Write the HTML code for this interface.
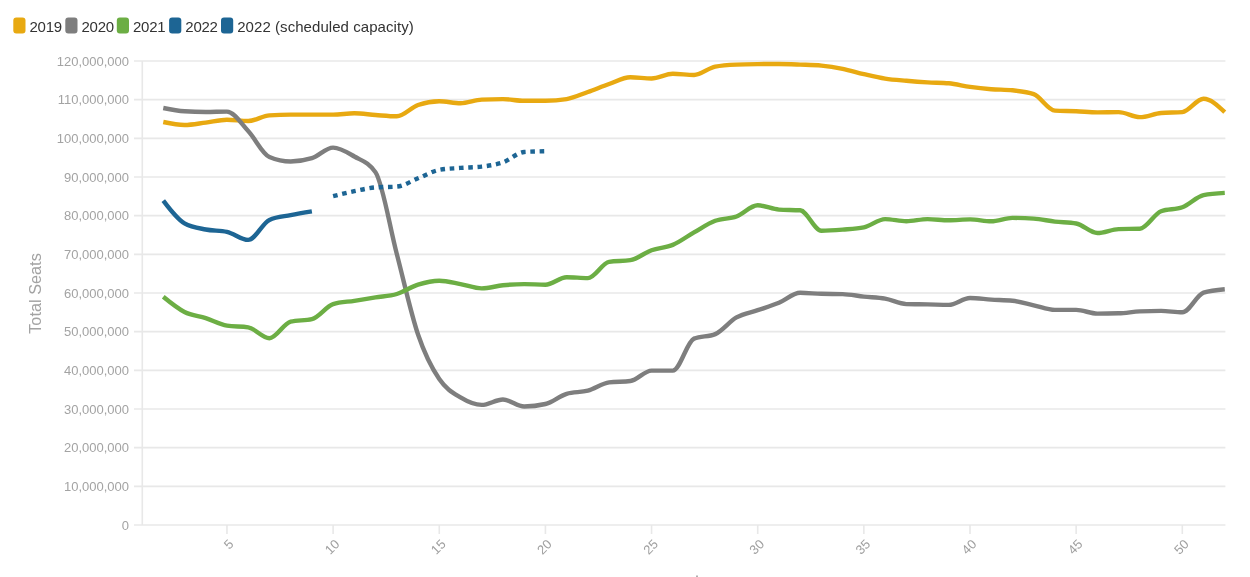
<!DOCTYPE html>
<html><head><meta charset="utf-8"><style>
html,body{margin:0;padding:0;background:#fff;}
body{width:1250px;height:577px;overflow:hidden;}
svg{display:block;will-change:transform;}
text{font-family:"Liberation Sans",sans-serif;}
.yl{font-size:13px;fill:#a3a3a3;}
.xl{font-size:13px;fill:#a0a0a0;}
.yt{font-size:16.3px;fill:#a3a3a3;}
.lg{font-size:15px;fill:#333;}
</style></head><body>
<svg width="1250" height="577" viewBox="0 0 1250 577">
<rect x="13.3" y="17.6" width="12.2" height="16" rx="3" fill="#E8A911"/>
<text x="29.5" y="31.8" class="lg" textLength="32.6" lengthAdjust="spacing">2019</text>
<rect x="65.3" y="17.6" width="12.2" height="16" rx="3" fill="#7E7E7E"/>
<text x="81.5" y="31.8" class="lg" textLength="32.6" lengthAdjust="spacing">2020</text>
<rect x="116.8" y="17.6" width="12.2" height="16" rx="3" fill="#6CAE44"/>
<text x="133.0" y="31.8" class="lg" textLength="32.6" lengthAdjust="spacing">2021</text>
<rect x="169.1" y="17.6" width="12.2" height="16" rx="3" fill="#1D6594"/>
<text x="185.3" y="31.8" class="lg" textLength="32.6" lengthAdjust="spacing">2022</text>
<rect x="221.0" y="17.6" width="12.2" height="16" rx="3" fill="#1D6594"/>
<text x="237.2" y="31.8" class="lg" textLength="176.5" lengthAdjust="spacing">2022 (scheduled capacity)</text>
<line x1="134" x2="1225.4" y1="525.00" y2="525.00" stroke="#e8e8e8" stroke-width="1.6"/>
<text x="129" y="529.80" text-anchor="end" class="yl">0</text>
<line x1="134" x2="1225.4" y1="486.33" y2="486.33" stroke="#e8e8e8" stroke-width="1.6"/>
<text x="129" y="491.13" text-anchor="end" class="yl">10,000,000</text>
<line x1="134" x2="1225.4" y1="447.67" y2="447.67" stroke="#e8e8e8" stroke-width="1.6"/>
<text x="129" y="452.47" text-anchor="end" class="yl">20,000,000</text>
<line x1="134" x2="1225.4" y1="409.00" y2="409.00" stroke="#e8e8e8" stroke-width="1.6"/>
<text x="129" y="413.80" text-anchor="end" class="yl">30,000,000</text>
<line x1="134" x2="1225.4" y1="370.33" y2="370.33" stroke="#e8e8e8" stroke-width="1.6"/>
<text x="129" y="375.13" text-anchor="end" class="yl">40,000,000</text>
<line x1="134" x2="1225.4" y1="331.67" y2="331.67" stroke="#e8e8e8" stroke-width="1.6"/>
<text x="129" y="336.47" text-anchor="end" class="yl">50,000,000</text>
<line x1="134" x2="1225.4" y1="293.00" y2="293.00" stroke="#e8e8e8" stroke-width="1.6"/>
<text x="129" y="297.80" text-anchor="end" class="yl">60,000,000</text>
<line x1="134" x2="1225.4" y1="254.33" y2="254.33" stroke="#e8e8e8" stroke-width="1.6"/>
<text x="129" y="259.13" text-anchor="end" class="yl">70,000,000</text>
<line x1="134" x2="1225.4" y1="215.67" y2="215.67" stroke="#e8e8e8" stroke-width="1.6"/>
<text x="129" y="220.47" text-anchor="end" class="yl">80,000,000</text>
<line x1="134" x2="1225.4" y1="177.00" y2="177.00" stroke="#e8e8e8" stroke-width="1.6"/>
<text x="129" y="181.80" text-anchor="end" class="yl">90,000,000</text>
<line x1="134" x2="1225.4" y1="138.33" y2="138.33" stroke="#e8e8e8" stroke-width="1.6"/>
<text x="129" y="143.13" text-anchor="end" class="yl">100,000,000</text>
<line x1="134" x2="1225.4" y1="99.67" y2="99.67" stroke="#e8e8e8" stroke-width="1.6"/>
<text x="129" y="104.47" text-anchor="end" class="yl">110,000,000</text>
<line x1="134" x2="1225.4" y1="61.00" y2="61.00" stroke="#e8e8e8" stroke-width="1.6"/>
<text x="129" y="65.80" text-anchor="end" class="yl">120,000,000</text>
<line x1="142.3" x2="142.3" y1="61" y2="525" stroke="#e8e8e8" stroke-width="1.6"/>
<line x1="226.96" x2="226.96" y1="525" y2="534" stroke="#e8e8e8" stroke-width="1.6"/>
<text transform="translate(234.26,545.00) rotate(-45)" text-anchor="end" class="xl">5</text>
<line x1="333.11" x2="333.11" y1="525" y2="534" stroke="#e8e8e8" stroke-width="1.6"/>
<text transform="translate(340.41,545.00) rotate(-45)" text-anchor="end" class="xl">10</text>
<line x1="439.26" x2="439.26" y1="525" y2="534" stroke="#e8e8e8" stroke-width="1.6"/>
<text transform="translate(446.56,545.00) rotate(-45)" text-anchor="end" class="xl">15</text>
<line x1="545.41" x2="545.41" y1="525" y2="534" stroke="#e8e8e8" stroke-width="1.6"/>
<text transform="translate(552.71,545.00) rotate(-45)" text-anchor="end" class="xl">20</text>
<line x1="651.56" x2="651.56" y1="525" y2="534" stroke="#e8e8e8" stroke-width="1.6"/>
<text transform="translate(658.86,545.00) rotate(-45)" text-anchor="end" class="xl">25</text>
<line x1="757.71" x2="757.71" y1="525" y2="534" stroke="#e8e8e8" stroke-width="1.6"/>
<text transform="translate(765.01,545.00) rotate(-45)" text-anchor="end" class="xl">30</text>
<line x1="863.86" x2="863.86" y1="525" y2="534" stroke="#e8e8e8" stroke-width="1.6"/>
<text transform="translate(871.16,545.00) rotate(-45)" text-anchor="end" class="xl">35</text>
<line x1="970.01" x2="970.01" y1="525" y2="534" stroke="#e8e8e8" stroke-width="1.6"/>
<text transform="translate(977.31,545.00) rotate(-45)" text-anchor="end" class="xl">40</text>
<line x1="1076.16" x2="1076.16" y1="525" y2="534" stroke="#e8e8e8" stroke-width="1.6"/>
<text transform="translate(1083.46,545.00) rotate(-45)" text-anchor="end" class="xl">45</text>
<line x1="1182.31" x2="1182.31" y1="525" y2="534" stroke="#e8e8e8" stroke-width="1.6"/>
<text transform="translate(1189.61,545.00) rotate(-45)" text-anchor="end" class="xl">50</text>
<path d="M163.27,122C170.35,123.5 177.42,125 184.5,125C191.58,125 198.65,123.47 205.73,122.6C212.81,121.73 219.88,119.8 226.96,119.8C234.04,119.8 241.11,121 248.19,121C255.27,121 262.34,115.93 269.42,115.4C276.5,114.87 283.57,114.6 290.65,114.6C297.73,114.6 304.8,114.6 311.88,114.6C318.96,114.6 326.03,114.6 333.11,114.6C340.19,114.6 347.26,113.3 354.34,113.3C361.42,113.3 368.49,114.5 375.57,115C382.65,115.5 389.72,116.3 396.8,116.3C403.88,116.3 410.95,107.52 418.03,105C425.11,102.48 432.18,101.2 439.26,101.2C446.34,101.2 453.41,103.2 460.49,103.2C467.57,103.2 474.64,99.93 481.72,99.6C488.8,99.27 495.87,99.1 502.95,99.1C510.03,99.1 517.1,100.8 524.18,100.8C531.26,100.8 538.33,100.8 545.41,100.8C552.49,100.8 559.56,100.23 566.64,99.1C573.72,97.97 580.79,94.52 587.87,92C594.95,89.48 602.02,86.47 609.1,84C616.18,81.53 623.25,77.2 630.33,77.2C637.41,77.2 644.48,78.5 651.56,78.5C658.64,78.5 665.71,73.8 672.79,73.8C679.87,73.8 686.94,75 694.02,75C701.1,75 708.17,67.93 715.25,66.6C722.33,65.27 729.4,64.93 736.48,64.6C743.56,64.27 750.63,64.17 757.71,64.1C764.79,64.03 771.86,64 778.94,64C786.02,64 793.09,64.33 800.17,64.6C807.25,64.87 814.32,64.93 821.4,65.6C828.48,66.27 835.55,67.38 842.63,68.8C849.71,70.22 856.78,72.47 863.86,74.1C870.94,75.73 878.01,77.48 885.09,78.6C892.17,79.72 899.24,80.17 906.32,80.8C913.4,81.43 920.47,81.98 927.55,82.4C934.63,82.82 941.7,82.7 948.78,83.3C955.86,83.9 962.93,85.92 970.01,86.9C977.09,87.88 984.16,88.63 991.24,89.2C998.32,89.77 1005.39,89.57 1012.47,90.3C1019.55,91.03 1026.62,91.57 1033.7,94.1C1040.78,96.63 1047.85,110.2 1054.93,110.6C1062.01,111 1069.08,110.9 1076.16,111.2C1083.24,111.5 1090.31,112.4 1097.39,112.4C1104.47,112.4 1111.54,112.1 1118.62,112.1C1125.7,112.1 1132.77,117.1 1139.85,117.1C1146.93,117.1 1154,113.6 1161.08,113C1168.16,112.4 1175.23,112.7 1182.31,112.1C1189.39,111.5 1196.46,98.8 1203.54,98.8C1210.62,98.8 1217.69,105.5 1224.77,112.2" fill="none" stroke="#E8A911" stroke-width="4.4"/>
<path d="M163.27,108C170.35,109.42 177.42,110.83 184.5,111.3C191.58,111.77 198.65,112 205.73,112C212.81,112 219.88,111.6 226.96,111.6C234.04,111.6 241.11,123.43 248.19,131C255.27,138.57 262.34,154 269.42,157C276.5,160 283.57,161.5 290.65,161.5C297.73,161.5 304.8,160.4 311.88,158.2C318.96,156 326.03,147.6 333.11,147.6C340.19,147.6 347.26,152.37 354.34,156.5C361.42,160.63 368.49,161.8 375.57,172.4C382.65,183 389.72,226.98 396.8,254C403.88,281.02 410.95,313.65 418.03,334.5C425.11,355.35 432.18,368.62 439.26,379.1C446.34,389.58 453.41,393.1 460.49,397.4C467.57,401.7 474.64,404.9 481.72,404.9C488.8,404.9 495.87,399.5 502.95,399.5C510.03,399.5 517.1,406.5 524.18,406.5C531.26,406.5 538.33,405.67 545.41,404C552.49,402.33 559.56,395.87 566.64,393.8C573.72,391.73 580.79,392.6 587.87,390.7C594.95,388.8 602.02,383.33 609.1,382.4C616.18,381.47 623.25,381.93 630.33,381C637.41,380.07 644.48,370.6 651.56,370.6C658.64,370.6 665.71,370.6 672.79,370.6C679.87,370.6 686.94,341.6 694.02,338.6C701.1,335.6 708.17,337.1 715.25,334.1C722.33,331.1 729.4,321.38 736.48,317.4C743.56,313.42 750.63,312.63 757.71,310.2C764.79,307.77 771.86,305.7 778.94,302.8C786.02,299.9 793.09,292.8 800.17,292.8C807.25,292.8 814.32,293.6 821.4,293.8C828.48,294 835.55,293.9 842.63,294.1C849.71,294.3 856.78,295.85 863.86,296.6C870.94,297.35 878.01,297.35 885.09,298.6C892.17,299.85 899.24,303.9 906.32,304.1C913.4,304.3 920.47,304.27 927.55,304.4C934.63,304.53 941.7,304.9 948.78,304.9C955.86,304.9 962.93,298 970.01,298C977.09,298 984.16,299.13 991.24,299.6C998.32,300.07 1005.39,300 1012.47,300.8C1019.55,301.6 1026.62,303.78 1033.7,305.3C1040.78,306.82 1047.85,309.9 1054.93,309.9C1062.01,309.9 1069.08,309.9 1076.16,309.9C1083.24,309.9 1090.31,313.6 1097.39,313.6C1104.47,313.6 1111.54,313.5 1118.62,313.3C1125.7,313.1 1132.77,311.73 1139.85,311.4C1146.93,311.07 1154,310.9 1161.08,310.9C1168.16,310.9 1175.23,312.3 1182.31,312.3C1189.39,312.3 1196.46,295.03 1203.54,292.7C1210.62,290.37 1217.69,289.78 1224.77,289.2" fill="none" stroke="#7E7E7E" stroke-width="4.4"/>
<path d="M163.27,296.8C170.35,302.62 177.42,308.43 184.5,312C191.58,315.57 198.65,315.92 205.73,318.2C212.81,320.48 219.88,324.57 226.96,325.7C234.04,326.83 241.11,326.27 248.19,327.4C255.27,328.53 262.34,338.2 269.42,338.2C276.5,338.2 283.57,323.27 290.65,321.6C297.73,319.93 304.8,320.77 311.88,319.1C318.96,317.43 326.03,306.3 333.11,304.1C340.19,301.9 347.26,301.92 354.34,300.8C361.42,299.68 368.49,298.53 375.57,297.4C382.65,296.27 389.72,296.12 396.8,294C403.88,291.88 410.95,286.9 418.03,284.7C425.11,282.5 432.18,280.8 439.26,280.8C446.34,280.8 453.41,282.83 460.49,284.1C467.57,285.37 474.64,288.4 481.72,288.4C488.8,288.4 495.87,286.02 502.95,285.3C510.03,284.58 517.1,284.1 524.18,284.1C531.26,284.1 538.33,284.7 545.41,284.7C552.49,284.7 559.56,277.2 566.64,277.2C573.72,277.2 580.79,278.1 587.87,278.1C594.95,278.1 602.02,263.03 609.1,261.9C616.18,260.77 623.25,261.33 630.33,260.2C637.41,259.07 644.48,252.75 651.56,250.2C658.64,247.65 665.71,247.87 672.79,244.9C679.87,241.93 686.94,236.42 694.02,232.4C701.1,228.38 708.17,223.45 715.25,220.8C722.33,218.15 729.4,219.08 736.48,216.5C743.56,213.92 750.63,205.3 757.71,205.3C764.79,205.3 771.86,209.13 778.94,209.6C786.02,210.07 793.09,209.83 800.17,210.3C807.25,210.77 814.32,230.7 821.4,230.7C828.48,230.7 835.55,230.15 842.63,229.6C849.71,229.05 856.78,228.87 863.86,227.4C870.94,225.93 878.01,219.1 885.09,219.1C892.17,219.1 899.24,221.3 906.32,221.3C913.4,221.3 920.47,219.1 927.55,219.1C934.63,219.1 941.7,220.3 948.78,220.3C955.86,220.3 962.93,219.4 970.01,219.4C977.09,219.4 984.16,221.3 991.24,221.3C998.32,221.3 1005.39,217.9 1012.47,217.9C1019.55,217.9 1026.62,218.13 1033.7,218.6C1040.78,219.07 1047.85,220.78 1054.93,221.6C1062.01,222.42 1069.08,222.23 1076.16,223.5C1083.24,224.77 1090.31,233 1097.39,233C1104.47,233 1111.54,229.37 1118.62,229.1C1125.7,228.83 1132.77,228.97 1139.85,228.7C1146.93,228.43 1154,213.8 1161.08,211.2C1168.16,208.6 1175.23,209.9 1182.31,207.3C1189.39,204.7 1196.46,196.73 1203.54,195.2C1210.62,193.67 1217.69,193.28 1224.77,192.9" fill="none" stroke="#6CAE44" stroke-width="4.4"/>
<path d="M163.27,200.6C170.35,209.97 177.42,219.33 184.5,223.4C191.58,227.47 198.65,228.1 205.73,229.5C212.81,230.9 219.88,230.27 226.96,231.8C234.04,233.33 241.11,239.9 248.19,239.9C255.27,239.9 262.34,223.1 269.42,219.9C276.5,216.7 283.57,216.53 290.65,215.1C297.73,213.67 304.8,212.48 311.88,211.3" fill="none" stroke="#1D6594" stroke-width="4.4"/>
<path d="M333.11,196.2C340.19,194.43 347.26,192.67 354.34,191.2C361.42,189.73 368.49,187.93 375.57,187.4C382.65,186.87 389.72,187.13 396.8,186.6C403.88,186.07 410.95,181.08 418.03,178.3C425.11,175.52 432.18,171.23 439.26,169.9C446.34,168.57 453.41,168.45 460.49,167.9C467.57,167.35 474.64,167.47 481.72,166.6C488.8,165.73 495.87,164.83 502.95,162.4C510.03,159.97 517.1,152.47 524.18,152C531.26,151.53 538.33,151.42 545.41,151.3" fill="none" stroke="#1D6594" stroke-width="4.4" stroke-dasharray="4.6 4.7"/>
<text transform="translate(41,293.5) rotate(-90)" text-anchor="middle" class="yt">Total Seats</text>
<rect x="696" y="575.5" width="2" height="2" fill="#b0b0b0"/>
</svg>
</body></html>
